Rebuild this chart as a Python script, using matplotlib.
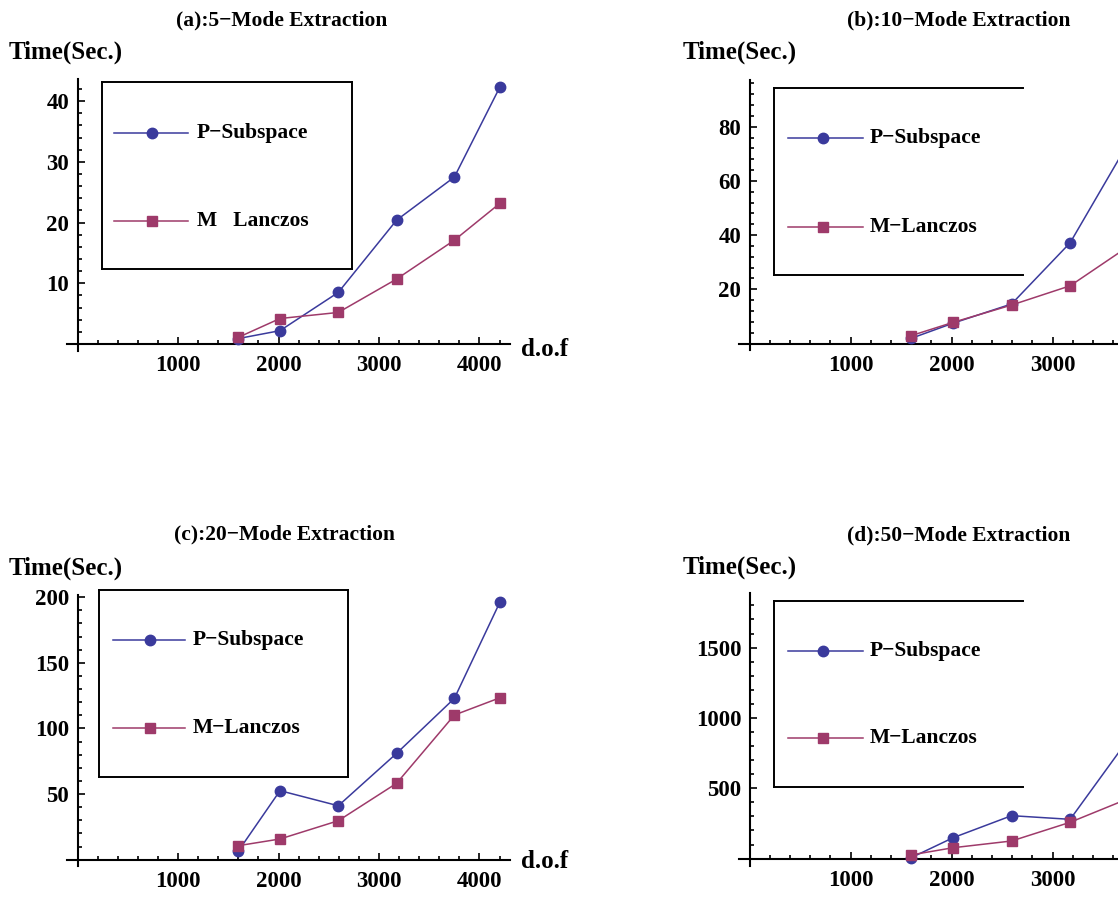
import matplotlib
matplotlib.use("Agg")
import matplotlib.pyplot as plt
from matplotlib.lines import Line2D
from matplotlib.ticker import MultipleLocator, FixedLocator

# ---------------- data ----------------
dof = [1600, 2015, 2595, 3175, 3750, 4205]

p_sub_5 = [0.9, 2.2, 8.5, 20.4, 27.5, 42.4]
m_lan_5 = [1.1, 4.2, 5.2, 10.7, 17.1, 23.2]

p_sub_10 = [1.9, 7.5, 14.6, 37.2, 74.0, 95.0]
m_lan_10 = [2.9, 7.8, 14.2, 21.3, 35.8, 50.0]

p_sub_20 = [6.6, 52.6, 41.1, 81.0, 122.9, 196.5]
m_lan_20 = [10.7, 15.8, 29.7, 58.2, 110.2, 123.4]

p_sub_50 = [6, 148, 305, 279, 848, 1850]
m_lan_50 = [26, 77, 125, 258, 426, 800]

titles = ["(a):5\u2212Mode Extraction", "(b):10\u2212Mode Extraction",
          "(c):20\u2212Mode Extraction", "(d):50\u2212Mode Extraction"]
y_label = "Time(Sec.)"
x_label = "d.o.f"
leg_p = "P\u2212Subspace"
leg_m = ["M   Lanczos", "M\u2212Lanczos", "M\u2212Lanczos", "M\u2212Lanczos"]
x_major = [1000, 2000, 3000, 4000]
x_major_labels = ["1000", "2000", "3000", "4000"]
y_major = [[10, 20, 30, 40], [20, 40, 60, 80], [50, 100, 150, 200], [500, 1000, 1500]]
y_minor = [2, 4, 10, 100]

# ---------------- style ----------------
W, H = 1118, 898
FONT = "Liberation Serif"
C_P = "#3a3a9c"
C_M = "#9e3a6a"

fig = plt.figure(figsize=(W / 100, H / 100), dpi=100)
fig.patch.set_facecolor("white")


def fx(x):
    return x / W


def fy(y):
    return 1 - y / H


# panel geometry in pixels: (x_left, x_right, y_top, y_bottom)
# the right-hand panels run past the right edge of the picture, as in the source
panels = [
    dict(box=(67.45, 509.65, 79.3, 351.3), ylim=(-1.2, 43.6), cut=False),
    dict(box=(739.4, 1183.8, 80.1, 350.3), ylim=(-2.5, 97.2), cut=True),
    dict(box=(67.45, 509.65, 594.5, 866.3), ylim=(-5, 202), cut=False),
    dict(box=(739.4, 1183.8, 593.3, 865.6), ylim=(-50, 1886), cut=True),
]
xlim = (-100, 4300)

series = [(p_sub_5, m_lan_5), (p_sub_10, m_lan_10),
          (p_sub_20, m_lan_20), (p_sub_50, m_lan_50)]

# text positions (pixels)
title_pos = [(282, 20), (959, 20.5), (284, 534), (959, 535)]
ylab_pos = [(9, 52), (683, 52), (9, 568), (683, 567)]
xlab_pos = [(521, 349), None, (521, 862), None]

# legend geometry (pixels)
legends = [
    dict(box=(101.7, 351.7, 82.3, 269.0), right=True, lx=(114, 188, 151.7), ty=(133.3, 221.0), tx=196.7),
    dict(box=(774.3, 1023.3, 88.3, 275.0), right=False, lx=(787.7, 863.3, 823.3), ty=(138.3, 226.7), tx=870),
    dict(box=(99.3, 347.7, 590.0, 776.7), right=True, lx=(112.7, 185, 150), ty=(640, 728), tx=193),
    dict(box=(774.3, 1023.3, 601.0, 786.7), right=False, lx=(787.7, 863.3, 823.3), ty=(651, 738.3), tx=870),
]

for i, pan in enumerate(panels):
    x0, x1, yt, yb = pan["box"]
    ax = fig.add_axes([fx(x0), fy(yb), (x1 - x0) / W, (yb - yt) / H])
    ax.set_xlim(*xlim)
    ax.set_ylim(*pan["ylim"])
    ax.patch.set_alpha(0)
    for s in ("top", "right"):
        ax.spines[s].set_visible(False)
    ax.spines["left"].set_position(("data", 0))
    ax.spines["bottom"].set_position(("data", 0))
    for s in ("left", "bottom"):
        ax.spines[s].set_linewidth(1.5)
        ax.spines[s].set_color("black")

    ax.xaxis.set_major_locator(FixedLocator(x_major))
    labels = list(x_major_labels)
    if pan["cut"]:
        labels[-1] = ""  # lies beyond the right edge of the picture
    ax.set_xticklabels(labels)
    ax.xaxis.set_minor_locator(MultipleLocator(200))
    ax.yaxis.set_major_locator(FixedLocator(y_major[i]))
    ax.yaxis.set_minor_locator(MultipleLocator(y_minor[i]))
    ax.tick_params(which="both", direction="in", width=1.2, color="black")
    ax.tick_params(which="major", length=5)
    ax.tick_params(which="minor", length=3)
    ax.tick_params(axis="x", which="major", pad=8)
    ax.tick_params(axis="y", which="major", pad=6)
    for lab in ax.get_xticklabels() + ax.get_yticklabels():
        lab.set_fontfamily(FONT)
        lab.set_fontweight("bold")
        lab.set_fontsize(16.5)

    p_vals, m_vals = series[i]
    ax.plot(dof, p_vals, color=C_P, lw=1.1, marker="o", ms=7.5,
            markerfacecolor=C_P, markeredgecolor=C_P, clip_on=False, zorder=3)
    ax.plot(dof, m_vals, color=C_M, lw=1.1, marker="s", ms=6.5,
            markerfacecolor=C_M, markeredgecolor=C_M, clip_on=False, zorder=3)

    # texts
    tx, ty = title_pos[i]
    fig.text(fx(tx), fy(ty), titles[i], ha="center", va="center",
             family=FONT, weight="bold", fontsize=15.5)
    lx, ly = ylab_pos[i]
    fig.text(fx(lx), fy(ly), y_label, ha="left", va="center",
             family=FONT, weight="bold", fontsize=18)
    if xlab_pos[i] is not None:
        dx, dy = xlab_pos[i]
        fig.text(fx(dx), fy(dy), x_label, ha="left", va="center",
                 family=FONT, weight="bold", fontsize=18)

    # legend box and entries
    lg = legends[i]
    bl, br, bt, bb = lg["box"]
    segs = [((bl, bl), (bt, bb)), ((bl, br), (bt, bt)), ((bl, br), (bb, bb))]
    if lg["right"]:
        segs.append(((br, br), (bt, bb)))
    for (xs, ys) in segs:
        fig.add_artist(Line2D([fx(v) for v in xs], [fy(v) for v in ys],
                              transform=fig.transFigure, color="black", lw=1.4))
    la, lb, lm = lg["lx"]
    for yy, col, mk, ms, lab in ((lg["ty"][0], C_P, "o", 7.5, leg_p),
                                 (lg["ty"][1], C_M, "s", 6.5, leg_m[i])):
        fig.add_artist(Line2D([fx(la), fx(lb)], [fy(yy), fy(yy)],
                              transform=fig.transFigure, color=col, lw=1.1))
        fig.add_artist(Line2D([fx(lm)], [fy(yy)], transform=fig.transFigure,
                              color=col, marker=mk, ms=ms, lw=0))
        fig.text(fx(lg["tx"]), fy(yy), lab, ha="left", va="center",
                 family=FONT, weight="bold", fontsize=15.5)

fig.savefig("out.png", dpi=100)
